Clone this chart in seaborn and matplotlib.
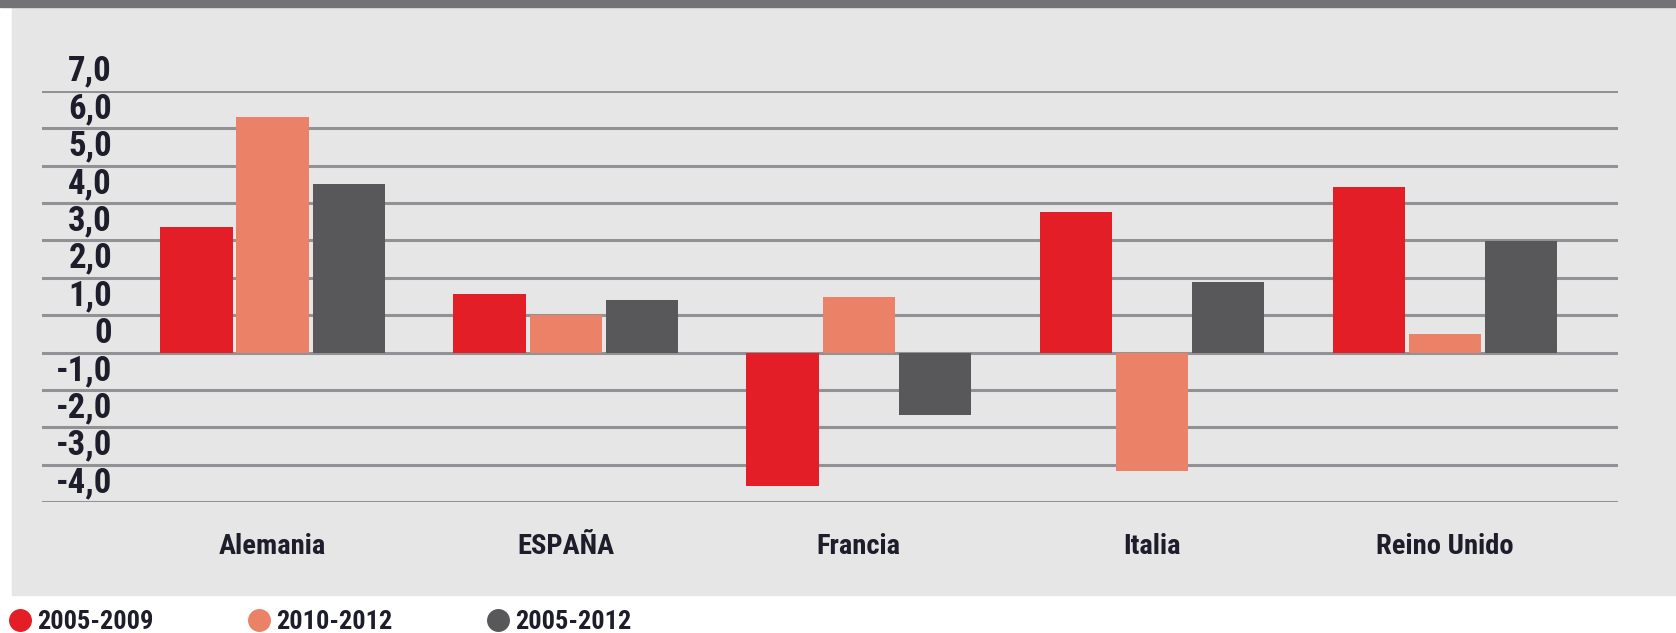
import pandas as pd
import matplotlib.pyplot as plt
import seaborn as sns
from matplotlib import font_manager
from matplotlib.patches import Rectangle
from matplotlib.lines import Line2D
from matplotlib.transforms import ScaledTranslation

# datos
paises = ['Alemania', 'ESPAÑA', 'Francia', 'Italia', 'Reino Unido']
periodos = ['2005-2009', '2010-2012', '2005-2012']
v_2005_2009 = [3.37, 1.58, -3.56, 3.77, 4.42]
v_2010_2012 = [6.30, 1.01, 1.50, -3.16, 0.51]
v_2005_2012 = [4.51, 1.41, -1.68, 1.90, 2.98]
colores = ['#e31e26', '#eb8167', '#58585a']
yticks = [-4, -3, -2, -1, 0, 1, 2, 3, 4, 5, 6, 7]
ytick_labels = ['-4,0', '-3,0', '-2,0', '-1,0', '0', '1,0', '2,0', '3,0', '4,0', '5,0', '6,0', '7,0']

df = pd.DataFrame({
    'pais': paises * 3,
    'periodo': [p for p in periodos for _ in paises],
    'valor': v_2005_2009 + v_2010_2012 + v_2005_2012,
})

# buscar una fuente estrecha
fuentes = font_manager.fontManager.ttflist
nombres = {f.name for f in fuentes}
stretch = 'normal'
familia = 'DejaVu Sans'
for n in ['Liberation Sans Narrow', 'Roboto Condensed', 'Open Sans Condensed', 'DejaVu Sans Condensed']:
    if n in nombres:
        familia = n
        break
else:
    if any(f.name == 'DejaVu Sans' and f.stretch == 'condensed' for f in fuentes):
        stretch = 'condensed'

plt.rcParams['font.family'] = [familia, 'DejaVu Sans']
plt.rcParams['font.weight'] = 'bold'
plt.rcParams['font.stretch'] = stretch
txt = '#1d1d2b'

W, H = 1676, 633
fig = plt.figure(figsize=(W / 100, H / 100), dpi=100)

# fondo gris y franja superior
fig.patches.append(Rectangle((12 / W, 1 - 595 / H), 1, (595 - 7) / H,
                             transform=fig.transFigure, color='#e6e6e6', zorder=-10))
fig.patches.append(Rectangle((0, 1 - 7 / H), 1, 7 / H,
                             transform=fig.transFigure, color='#737375', zorder=-10))

ax = fig.add_axes([42 / W, 1 - 502.3 / H, (1618 - 42) / W, (502.3 - 90.7) / H])
ax.patch.set_visible(False)

sns.barplot(data=df, x='pais', y='valor', hue='periodo', palette=colores,
            saturation=1, width=0.78, gap=0.05, linewidth=0, legend=False, ax=ax)

ax.set_xlim(-0.787, 4.59)
ax.set_ylim(-4, 7)
ax.set_yticks(yticks, ytick_labels)
ax.grid(axis='y', color='#919196', lw=2.2)
ax.grid(axis='x', visible=False)
ax.set_axisbelow(True)
for s in ax.spines.values():
    s.set_visible(False)
ax.set_xlabel('')
ax.set_ylabel('')
ax.tick_params(axis='both', length=0, colors=txt)
ax.tick_params(axis='y', labelsize=25, pad=0)
ax.tick_params(axis='x', labelsize=20.5, pad=22)

# etiquetas del eje y desplazadas hacia arriba y dentro del panel
off = ScaledTranslation(0.70, 0.23, fig.dpi_scale_trans)
for lab in ax.get_yticklabels():
    lab.set_transform(lab.get_transform() + off)

handles = [Line2D([], [], ls='none', marker='o', markersize=15.5, color=c) for c in colores]
fig.legend(handles, periodos, loc='center left', bbox_to_anchor=(9 / W, 1 - 622 / H),
           ncol=3, frameon=False, borderpad=0, borderaxespad=0, handlelength=0.8,
           handletextpad=0.25, columnspacing=3.6, prop={'size': 19, 'weight': 'bold'},
           labelcolor=txt)

fig.savefig('out.png', dpi=100)
